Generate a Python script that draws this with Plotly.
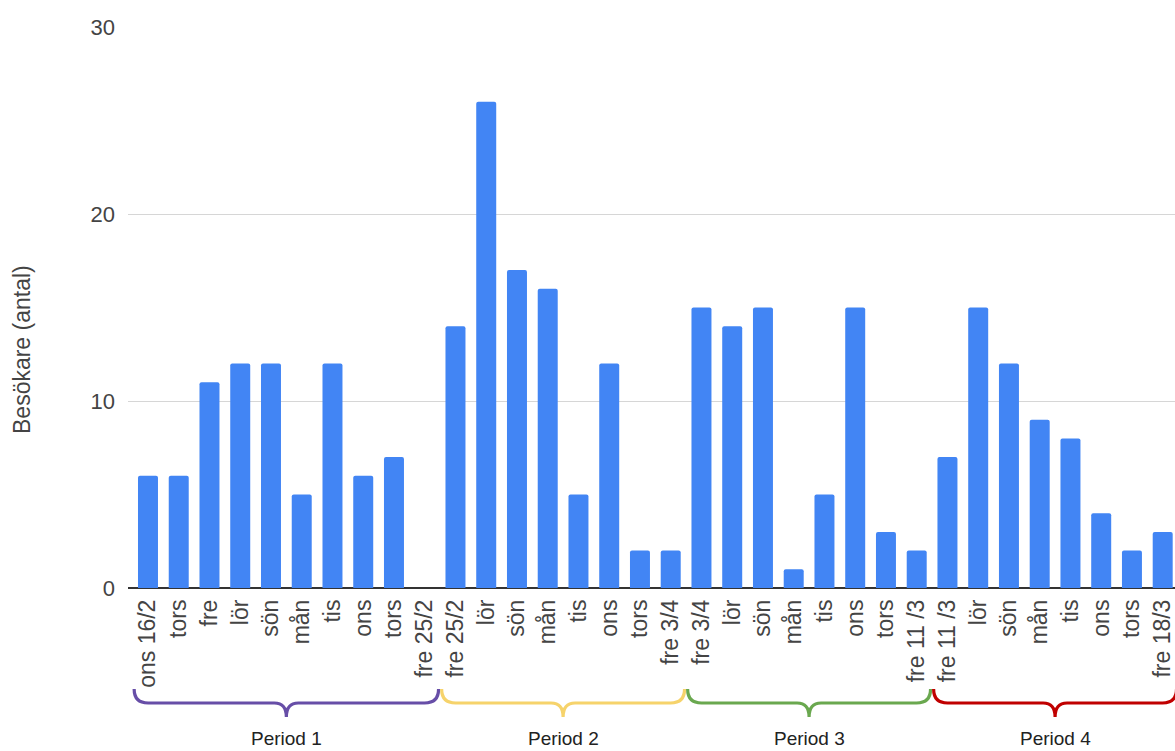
import plotly.graph_objects as go

# ---- data ----
day_labels = [
    "ons 16/2", "tors", "fre", "lör", "sön", "mån", "tis", "ons", "tors", "fre 25/2",
    "fre 25/2", "lör", "sön", "mån", "tis", "ons", "tors", "fre 3/4",
    "fre 3/4", "lör", "sön", "mån", "tis", "ons", "tors", "fre 11 /3",
    "fre 11 /3", "lör", "sön", "mån", "tis", "ons", "tors", "fre 18/3",
]
visitors = [
    6, 6, 11, 12, 12, 5, 12, 6, 7, 0,
    14, 26, 17, 16, 5, 12, 2, 2,
    15, 14, 15, 1, 5, 15, 3, 2,
    7, 15, 12, 9, 8, 4, 2, 3,
]
period_names = ["Period 1", "Period 2", "Period 3", "Period 4"]
period_first = [0, 10, 18, 26]
period_last = [9, 17, 25, 33]
period_colors = ["#674ea7", "#f6d36b", "#6aa84f", "#c00000"]

y_ticks = [0, 10, 20, 30]

# ---- layout constants ----
W, H = 1175, 751
ML, MR, MT, MB = 128, 0, 27, 163
XMIN, XMAX = -0.65, 33.4
plot_w = W - ML - MR
plot_h = H - MT - MB

x_idx = list(range(len(day_labels)))

fig = go.Figure(go.Bar(
    x=x_idx, y=visitors,
    marker=dict(color="#4285f4", cornerradius=2, line=dict(width=0)),
    hoverinfo="y",
))

def idx_to_paper(v):
    return (v - XMIN) / (XMAX - XMIN)

def dpx(p):  # pixel horizontal offset -> paper
    return p / plot_w

def ypix_to_paper(yp):
    return (H - MB - yp) / plot_h

shapes = []
annotations = []
y_tip = ypix_to_paper(689)
y_line = ypix_to_paper(703)
y_mid = ypix_to_paper(717)
for name, a, b, col in zip(period_names, period_first, period_last, period_colors):
    mid = (a + b) / 2
    half = (b - a) / 2 + 0.45
    xl = idx_to_paper(mid - half)
    xr = idx_to_paper(mid + half)
    xc = idx_to_paper(mid)
    r = dpx(14)
    rc = dpx(12)
    path = (
        f"M {xl},{y_tip} Q {xl},{y_line} {xl + r},{y_line} "
        f"L {xc - rc},{y_line} Q {xc},{y_line} {xc},{y_mid} "
        f"Q {xc},{y_line} {xc + rc},{y_line} "
        f"L {xr - r},{y_line} Q {xr},{y_line} {xr},{y_tip}"
    )
    shapes.append(dict(type="path", path=path, xref="paper", yref="paper",
                       line=dict(color=col, width=3.2), layer="above"))
    annotations.append(dict(x=xc, y=ypix_to_paper(738), xref="paper", yref="paper",
                            text=name, showarrow=False, xanchor="center", yanchor="middle",
                            font=dict(size=19, color="#222222", family="Liberation Sans, Arial")))

annotations.append(dict(
    x=-(ML - 22) / plot_w, y=ypix_to_paper(350), xref="paper", yref="paper",
    text="Besökare (antal)", textangle=-90, showarrow=False,
    xanchor="center", yanchor="middle",
    font=dict(size=23, color="#444444", family="Liberation Sans, Arial"),
))

fig.update_layout(
    width=W, height=H,
    margin=dict(l=ML, r=MR, t=MT, b=MB, pad=0),
    paper_bgcolor="white", plot_bgcolor="white",
    bargap=0.35,
    showlegend=False,
    font=dict(family="Liberation Sans, Arial", color="#444444"),
    shapes=shapes,
    annotations=annotations,
    xaxis=dict(
        range=[XMIN, XMAX], tickmode="array", tickvals=x_idx, ticktext=day_labels,
        tickangle=-90, tickfont=dict(size=23, color="#444444"),
        showgrid=False, zeroline=False, showline=False, ticks="",
        ticklabelstandoff=6, ticklabeloverflow="allow", automargin=False,
    ),
    yaxis=dict(
        range=[0, 30], tickmode="array", tickvals=y_ticks,
        tickfont=dict(size=22, color="#444444"),
        showgrid=True, gridcolor="#d6d6d6", gridwidth=1,
        zeroline=True, zerolinecolor="#333333", zerolinewidth=1.5,
        showline=False, ticks="", ticklabelstandoff=12, automargin=False,
    ),
)

fig.write_html("out.html")
